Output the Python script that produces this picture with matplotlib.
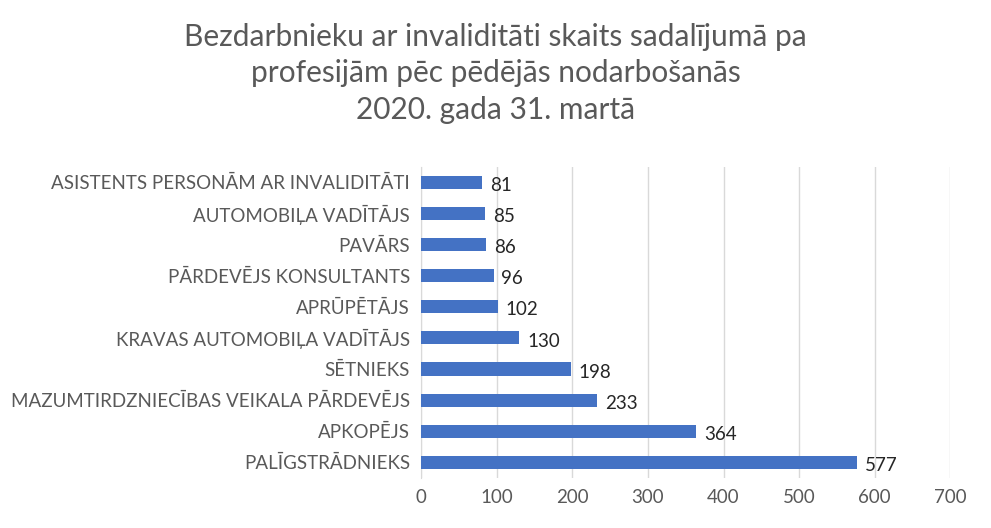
import matplotlib
matplotlib.use("Agg")
import matplotlib.pyplot as plt

categories = ["PALĪGSTRĀDNIEKS", "APKOPĒJS", "MAZUMTIRDZNIECĪBAS VEIKALA PĀRDEVĒJS",
              "SĒTNIEKS", "KRAVAS AUTOMOBIĻA VADĪTĀJS", "APRŪPĒTĀJS",
              "PĀRDEVĒJS KONSULTANTS", "PAVĀRS", "AUTOMOBIĻA VADĪTĀJS",
              "ASISTENTS PERSONĀM AR INVALIDITĀTI"]
values = [577, 364, 233, 198, 130, 102, 96, 86, 85, 81]
xticks = [0, 100, 200, 300, 400, 500, 600, 700]

plt.rcParams['font.family'] = ['Lato', 'DejaVu Sans']
fig = plt.figure(figsize=(9.91, 5.28), dpi=100)
ax = fig.add_axes([0.425, 0.095, 0.534, 0.589])
y = range(len(categories))
ax.barh(y, values, height=0.42, color='#4472C4', zorder=3)
for yi, v in zip(y, values):
    ax.text(v + 10, yi - 0.1, str(v), va='center', ha='left', fontsize=13.5, color='#262626')
ax.set_yticks(list(y))
ax.set_yticklabels(categories, fontsize=13.5, color='#595959')
ax.set_xticks(xticks)
ax.set_xticklabels([str(t) for t in xticks], fontsize=13.5, color='#595959')
ax.set_xlim(0, 700)
ax.set_ylim(-0.5, len(categories) - 0.5)
ax.grid(axis='x', color='#D9D9D9', linewidth=1, zorder=0)
for s in ['top', 'right', 'bottom']:
    ax.spines[s].set_visible(False)
ax.spines['left'].set_color('#D9D9D9')
ax.tick_params(length=0, pad=8)
fig.text(0.5, 0.765, "Bezdarbnieku ar invaliditāti skaits sadalījumā pa\nprofesijām pēc pēdējās nodarbošanās\n2020. gada 31. martā",
         ha='center', va='bottom', fontsize=21.5, color='#595959', linespacing=1.38)
fig.savefig("out.png", dpi=100)
